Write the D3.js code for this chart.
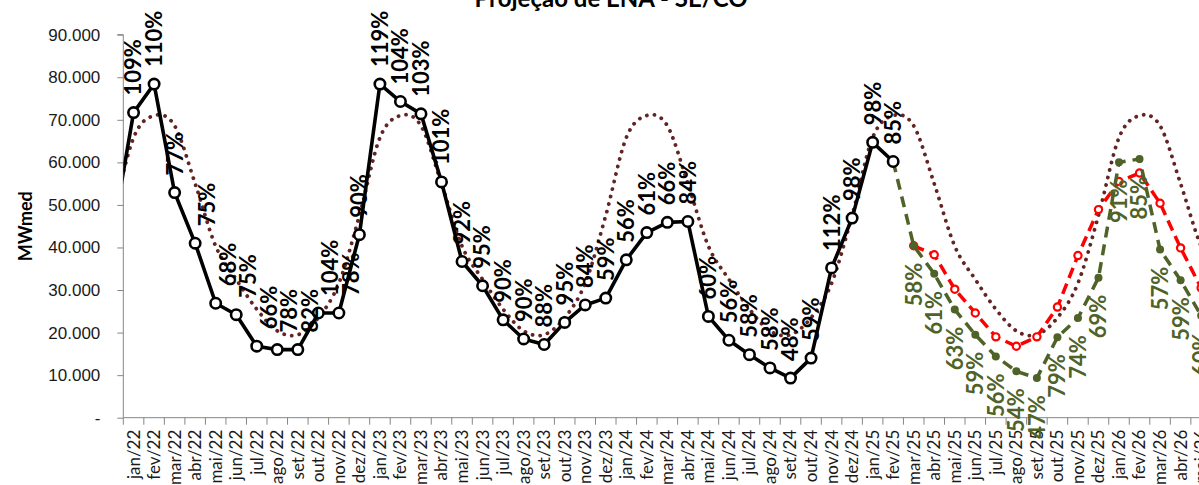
<!DOCTYPE html>
<html>
<head>
<meta charset="utf-8">
<script src="https://cdn.jsdelivr.net/npm/d3@7"></script>
<style>
  body { margin: 0; background: #fff; }
  svg { display: block; font-family: Lato, "Open Sans", sans-serif; }
</style>
</head>
<body>
<div id="chart"></div>
<script>
// categories (dez/21 sits just left of the axis, only its line segment shows)
const months = [
    "dez/21",
    "jan/22", "fev/22", "mar/22", "abr/22", "mai/22", "jun/22", "jul/22", "ago/22", "set/22", "out/22", "nov/22", "dez/22",
    "jan/23", "fev/23", "mar/23", "abr/23", "mai/23", "jun/23", "jul/23", "ago/23", "set/23", "out/23", "nov/23", "dez/23",
    "jan/24", "fev/24", "mar/24", "abr/24", "mai/24", "jun/24", "jul/24", "ago/24", "set/24", "out/24", "nov/24", "dez/24",
    "jan/25", "fev/25", "mar/25", "abr/25", "mai/25", "jun/25", "jul/25", "ago/25", "set/25", "out/25", "nov/25", "dez/25",
    "jan/26", "fev/26", "mar/26", "abr/26", "mai/26", "jun/26"
];

// verified ENA (MWmed), dez/21 .. fev/25
const actual = [
    43600,
    71700, 78400, 52900, 41000, 26900, 24200, 16800, 16000, 16000, 24600, 24600, 43000,
    78400, 74300, 71400, 55400, 36700, 31000, 23000, 18500, 17200, 22400, 26500, 28100,
    37100, 43500, 45900, 46100, 23800, 18200, 14800, 11700, 9300, 14000, 35200, 46900,
    64700, 60200
];
// % of MLT written over each verified point
const actualPct = [
    null,
    109, 110, 77, 75, 68, 75, 66, 78, 82, 104, 78, 90,
    119, 104, 103, 101, 92, 95, 90, 90, 88, 95, 84, 59,
    56, 61, 66, 84, 60, 56, 58, 58, 48, 59, 112, 98,
    98, 85
];

// long-term average (MLT) per calendar month
const mltMonthNames = ["jan", "fev", "mar", "abr", "mai", "jun", "jul", "ago", "set", "out", "nov", "dez"];
const mltMonthly = [65800, 71000, 68600, 55000, 40300, 32500, 25500, 20400, 19500, 23500, 31600, 47500];

// green projection (fev/25 .. mai/26)
const greenMonths = ["fev/25", "mar/25", "abr/25", "mai/25", "jun/25", "jul/25", "ago/25", "set/25", "out/25", "nov/25", "dez/25", "jan/26", "fev/26", "mar/26", "abr/26", "mai/26"];
const greenValues = [60200, 40400, 33800, 25400, 19500, 14400, 10900, 9300, 18900, 23400, 32900, 60000, 60800, 39500, 32300, 24000];
const greenPct = [null, 58, 61, 63, 59, 56, 54, 47, 79, 74, 69, 91, 85, 57, 59, 60];

// red projection (mar/25 .. mai/26)
const redMonths = ["mar/25", "abr/25", "mai/25", "jun/25", "jul/25", "ago/25", "set/25", "out/25", "nov/25", "dez/25", "jan/26", "fev/26", "mar/26", "abr/26", "mai/26"];
const redValues = [40400, 38300, 30200, 24600, 19000, 16800, 19000, 26000, 38100, 48900, 55500, 57500, 50400, 39900, 30500];

const yTicks = [0, 10000, 20000, 30000, 40000, 50000, 60000, 70000, 80000, 90000];

// labels that sit half a column to the right in the original
const nudged = new Set(["abr/22", "mai/22", "jun/22", "jul/22", "ago/22", "set/22", "out/22", "nov/22"]);

const width = 1199, height = 485;
const axisX = 123.3, step = 20.53;
const mltColor = "#632523", green = "#4F6228", red = "#FF0000", axisColor = "#868686";

const svg = d3.select("#chart").append("svg")
    .attr("width", width)
    .attr("height", height);

const x = d3.scaleBand()
    .domain(months)
    .range([axisX - step, axisX - step + months.length * step])
    .paddingInner(0).paddingOuter(0);
const cx = m => x(m) + x.bandwidth() / 2;

const y = d3.scaleLinear()
    .domain([0, 90000])
    .range([417.7, 34.7]);

// title (the top of it is cut off in the original)
svg.append("text")
    .attr("x", 611).attr("y", 7)
    .attr("text-anchor", "middle")
    .style("font-weight", "bold")
    .style("font-size", "24px")
    .attr("fill", "#000")
    .text("Projeção de ENA - SE/CO");

// y axis
const yAxis = svg.append("g")
    .attr("transform", `translate(${axisX},0)`)
    .call(d3.axisLeft(y)
        .tickValues(yTicks)
        .tickSize(6)
        .tickPadding(17)
        .tickFormat(v => v === 0 ? "-" : d3.format(",")(v).replace(/,/g, ".")));
yAxis.selectAll("path, line").attr("stroke", axisColor);
yAxis.selectAll("text").style("font-size", "17px").attr("fill", "#1a1a1a");
yAxis.select(".domain").attr("d", `M-6,${y(90000)}H0V${y(0)}`);

svg.append("text")
    .attr("transform", `translate(26,${(y(0) + y(90000)) / 2}) rotate(-90)`)
    .attr("text-anchor", "middle")
    .attr("dy", "0.35em")
    .style("font-weight", "bold")
    .style("font-size", "18px")
    .text("MWmed");

// x axis: ticks between categories, labels rotated
const shown = months.slice(1);
const xAxis = svg.append("g");
xAxis.append("line")
    .attr("x1", axisX).attr("x2", width + 40)
    .attr("y1", y(0)).attr("y2", y(0))
    .attr("stroke", axisColor);
xAxis.selectAll("line.tick")
    .data(shown)
    .join("line")
    .attr("class", "tick")
    .attr("x1", d => x(d)).attr("x2", d => x(d))
    .attr("y1", y(0)).attr("y2", y(0) + 7)
    .attr("stroke", axisColor);
xAxis.selectAll("text")
    .data(shown)
    .join("text")
    .attr("transform", d => `translate(${cx(d)},${y(0) + 12}) rotate(-90)`)
    .attr("text-anchor", "end")
    .attr("dy", "0.35em")
    .style("font-size", "17px")
    .attr("fill", "#1a1a1a")
    .text(d => d);

// plot clip (the left edge cuts the dez/21 segment)
svg.append("clipPath").attr("id", "plot")
    .append("rect")
    .attr("x", axisX).attr("y", 0)
    .attr("width", width).attr("height", height);

const plot = svg.append("g").attr("clip-path", "url(#plot)");

// MLT dotted
const mltData = months.map(m => ({ m, v: mltMonthly[mltMonthNames.indexOf(m.split("/")[0])] }));
plot.append("path")
    .datum(mltData)
    .attr("fill", "none")
    .attr("stroke", mltColor)
    .attr("stroke-width", 3.8)
    .attr("stroke-linecap", "round")
    .attr("stroke-dasharray", "0.1 7.6")
    .attr("d", d3.line().x(d => cx(d.m)).y(d => y(d.v)).curve(d3.curveCardinal));

const line = d3.line().x(d => cx(d.m)).y(d => y(d.v));

// red projection
const redData = redMonths.map((m, i) => ({ m, v: redValues[i] }));
plot.append("path")
    .datum(redData)
    .attr("fill", "none")
    .attr("stroke", red)
    .attr("stroke-width", 3.5)
    .attr("stroke-dasharray", "11 6")
    .attr("d", line);
plot.append("g").selectAll("circle")
    .data(redData)
    .join("circle")
    .attr("cx", d => cx(d.m)).attr("cy", d => y(d.v))
    .attr("r", 3.6)
    .attr("fill", "#fff")
    .attr("stroke", red)
    .attr("stroke-width", 2.2);

// green projection
const greenData = greenMonths.map((m, i) => ({ m, v: greenValues[i], pct: greenPct[i] }));
plot.append("path")
    .datum(greenData)
    .attr("fill", "none")
    .attr("stroke", green)
    .attr("stroke-width", 3.5)
    .attr("stroke-dasharray", "11 7")
    .attr("d", line);
plot.append("g").selectAll("circle")
    .data(greenData.slice(1))
    .join("circle")
    .attr("cx", d => cx(d.m)).attr("cy", d => y(d.v))
    .attr("r", 4)
    .attr("fill", green);

// verified ENA
const actualData = actual.map((v, i) => ({ m: months[i], v, pct: actualPct[i] }));
plot.append("path")
    .datum(actualData)
    .attr("fill", "none")
    .attr("stroke", "#000")
    .attr("stroke-width", 3.6)
    .attr("stroke-linejoin", "round")
    .attr("d", line);
plot.append("g").selectAll("circle")
    .data(actualData.slice(1))
    .join("circle")
    .attr("cx", d => cx(d.m)).attr("cy", d => y(d.v))
    .attr("r", 5.2)
    .attr("fill", "#fff")
    .attr("stroke", "#000")
    .attr("stroke-width", 2.6);

// % of MLT labels
svg.append("g").selectAll("text")
    .data(actualData.filter(d => d.pct != null))
    .join("text")
    .attr("transform", d => `translate(${cx(d.m) + (nudged.has(d.m) ? 12 : 0)},${y(d.v) - 17}) rotate(-90)`)
    .attr("dy", "0.36em")
    .attr("text-anchor", "start")
    .style("font-size", "22px")
    .style("font-weight", "bold")
    .attr("fill", "#000")
    .text(d => d.pct + "%");

svg.append("g").selectAll("text")
    .data(greenData.filter(d => d.pct != null))
    .join("text")
    .attr("transform", d => `translate(${cx(d.m)},${y(d.v) + 17}) rotate(-90)`)
    .attr("dy", "0.36em")
    .attr("text-anchor", "end")
    .style("font-size", "22px")
    .style("font-weight", "bold")
    .attr("fill", green)
    .text(d => d.pct + "%");
</script>
</body>
</html>
